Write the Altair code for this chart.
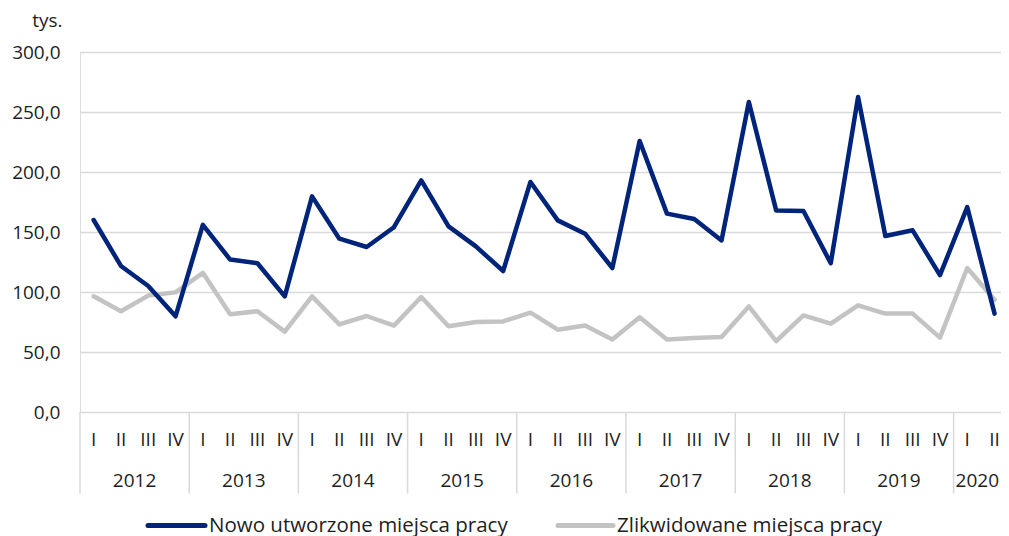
import altair as alt
import pandas as pd

years = ["2012", "2013", "2014", "2015", "2016", "2017", "2018", "2019", "2020"]
quarters = ["I", "II", "III", "IV"]
n_quarters_last = 2

series_names = ["Nowo utworzone miejsca pracy", "Zlikwidowane miejsca pracy"]
series_colors = ["#002479", "#c3c3c3"]

new_jobs = [160.0, 121.7, 105.0, 79.7,
            156.0, 127.0, 124.0, 96.4,
            179.7, 144.4, 137.5, 154.0,
            193.0, 154.7, 138.0, 117.5,
            191.7, 159.7, 148.6, 120.0,
            225.8, 165.3, 160.8, 143.0,
            258.3, 168.0, 167.5, 124.0,
            262.5, 146.7, 151.4, 114.0,
            170.8, 82.0]
lost_jobs = [96.4, 83.9, 97.0, 99.7,
             116.0, 81.4, 84.0, 67.0,
             96.4, 73.0, 80.0, 72.0,
             95.8, 71.4, 75.0, 75.5,
             82.8, 68.6, 72.0, 60.5,
             79.0, 60.5, 61.7, 62.5,
             88.0, 59.0, 80.5, 73.6,
             88.9, 82.0, 82.0, 62.0,
             120.0, 93.6]
y_ticks = [0, 50, 100, 150, 200, 250, 300]

FONT = "Open Sans"
FS = 19
TXT = "#1e1e1e"
GRID = "#d9d9d9"

W = 921
H = 360
step = 27.3
xdom = [-0.5, -0.5 + W / step]

# ---- build tables ----
q_labels, q_year = [], []
for y in years:
    qs = quarters if y != years[-1] else quarters[:n_quarters_last]
    for q in qs:
        q_labels.append(q)
        q_year.append(y)
idx = list(range(len(q_labels)))

rows = []
for name, vals in zip(series_names, [new_jobs, lost_jobs]):
    for i, v in enumerate(vals):
        rows.append({"idx": i, "series": name, "value": v})
df = pd.DataFrame(rows)

df_q = pd.DataFrame({"idx": idx, "label": q_labels})
year_centers = []
for y in years:
    ii = [i for i, yy in zip(idx, q_year) if yy == y]
    lo, hi = min(ii) - 0.5, min(max(ii) + 0.5, xdom[1])
    year_centers.append((lo + hi) / 2)
df_y = pd.DataFrame({"idx": year_centers, "label": years})
sep = [min(i for i, yy in zip(idx, q_year) if yy == y) - 0.5 for y in years]
df_sep = pd.DataFrame({"idx": sep})

xs = alt.Scale(domain=xdom, nice=False, zero=False)
cs = alt.Scale(domain=series_names, range=series_colors)

yaxis = alt.Axis(
    values=y_ticks,
    labelExpr="replace(format(datum.value, '.1f'), '.', ',')",
    grid=True, gridColor=GRID, gridWidth=1.5,
    domain=False, ticks=False, labelPadding=20,
    labelFontSize=FS, labelColor=TXT, labelFont=FONT,
    title="tys.", titleAngle=0, titleAlign="right", titleBaseline="alphabetic",
    titleX=-18, titleY=-26, titleFontSize=FS, titleFontWeight="normal",
    titleColor=TXT, titleFont=FONT,
)

base_line = alt.Chart(df).mark_line(strokeWidth=4.5, strokeCap="round", strokeJoin="round")

line_new = base_line.transform_filter(alt.datum.series == series_names[0]).encode(
    x=alt.X("idx:Q", scale=xs, axis=None),
    y=alt.Y("value:Q", scale=alt.Scale(domain=[0, 300], nice=False), axis=yaxis),
    color=alt.Color("series:N", scale=cs, legend=None),
)
line_lost = base_line.transform_filter(alt.datum.series == series_names[1]).encode(
    x=alt.X("idx:Q", scale=xs, axis=None),
    y=alt.Y("value:Q", scale=alt.Scale(domain=[0, 300], nice=False), axis=yaxis),
    color=alt.Color("series:N", scale=cs, legend=None),
)

q_text = alt.Chart(df_q).mark_text(font=FONT, fontSize=FS, color=TXT, baseline="middle").encode(
    x=alt.X("idx:Q", scale=xs, axis=None),
    y=alt.value(388),
    text="label:N",
)
y_text = alt.Chart(df_y).mark_text(font=FONT, fontSize=FS, color=TXT, baseline="middle").encode(
    x=alt.X("idx:Q", scale=xs, axis=None),
    y=alt.value(429),
    text="label:N",
)
seps = alt.Chart(df_sep).mark_rule(color=GRID, strokeWidth=1.5).encode(
    x=alt.X("idx:Q", scale=xs, axis=None),
    y=alt.value(H),
    y2=alt.value(441.5),
)

legend_layers = []
leg_pos = [(68, 125, 129), (478, 533, 537)]
for name, (x0, x1, xt) in zip(series_names, leg_pos):
    d = pd.DataFrame({"series": [name]})
    legend_layers.append(
        alt.Chart(d).mark_rule(strokeWidth=5, strokeCap="round").encode(
            x=alt.value(x0), x2=alt.value(x1), y=alt.value(473.5),
            color=alt.Color("series:N", scale=cs, legend=None),
        )
    )
    legend_layers.append(
        alt.Chart(d).mark_text(font=FONT, fontSize=20.5, color=TXT, align="left", baseline="middle").encode(
            x=alt.value(xt), y=alt.value(473.5), text="series:N",
        )
    )

chart = alt.layer(seps, line_lost, line_new, q_text, y_text, *legend_layers).properties(
    width=W, height=H,
    autosize=alt.AutoSizeParams(type="none"),
    padding={"left": 72, "top": 44, "right": 0, "bottom": 124},
).configure_view(stroke=None).configure(font=FONT)

chart.save("out.html", embed_options={"renderer": "svg", "actions": False})
